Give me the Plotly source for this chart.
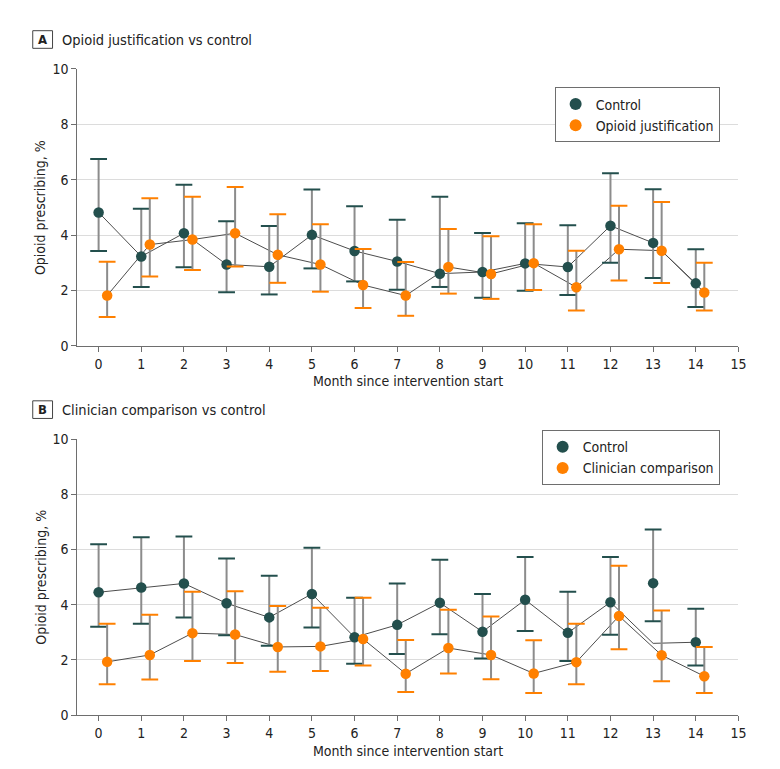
import plotly.graph_objects as go

W, H = 780, 769

months = list(range(15))
tick_vals = list(range(16))

# Panel A: Opioid justification vs control
a_ctrl = [4.82, 3.23, 4.07, 2.94, 2.86, 4.01, 3.43, 3.05, 2.61, 2.67, 2.98, 2.85, 4.34, 3.72, 2.26]
a_ctrl_hi = [6.75, 4.95, 5.82, 4.50, 4.33, 5.65, 5.04, 4.56, 5.39, 4.08, 4.43, 4.36, 6.23, 5.66, 3.49]
a_ctrl_lo = [3.43, 2.13, 2.84, 1.94, 1.86, 2.80, 2.33, 2.03, 2.13, 1.74, 1.99, 1.84, 3.00, 2.45, 1.41]
a_int = [1.82, 3.66, 3.84, 4.07, 3.29, 2.94, 2.20, 1.82, 2.85, 2.60, 2.99, 2.12, 3.49, 3.44, 1.93]
a_int_hi = [3.04, 5.33, 5.39, 5.74, 4.75, 4.39, 3.50, 3.03, 4.22, 3.96, 4.39, 3.44, 5.06, 5.20, 3.00]
a_int_lo = [1.05, 2.51, 2.74, 2.87, 2.28, 1.96, 1.37, 1.09, 1.89, 1.70, 2.02, 1.28, 2.36, 2.27, 1.28]

# Panel B: Clinician comparison vs control
b_ctrl = [4.45, 4.62, 4.77, 4.05, 3.54, 4.39, 2.82, 3.27, 4.07, 3.02, 4.18, 2.98, 4.09, 4.78, 2.64]
b_ctrl_line = [4.45, 4.62, 4.77, 4.05, 3.54, 4.39, 2.82, 3.27, 4.07, 3.02, 4.18, 2.98, 4.09, 2.60, 2.64]
b_ctrl_hi = [6.19, 6.44, 6.47, 5.67, 5.05, 6.06, 4.25, 4.77, 5.63, 4.39, 5.73, 4.47, 5.73, 6.72, 3.85]
b_ctrl_lo = [3.20, 3.31, 3.54, 2.89, 2.51, 3.17, 1.86, 2.21, 2.93, 2.05, 3.05, 1.96, 2.91, 3.40, 1.80]
b_int = [1.93, 2.18, 2.97, 2.92, 2.47, 2.49, 2.76, 1.50, 2.43, 2.18, 1.51, 1.92, 3.59, 2.17, 1.41]
b_int_hi = [3.31, 3.64, 4.47, 4.49, 3.95, 3.89, 4.25, 2.72, 3.82, 3.57, 2.71, 3.31, 5.41, 3.79, 2.47]
b_int_lo = [1.12, 1.29, 1.96, 1.89, 1.57, 1.60, 1.80, 0.84, 1.51, 1.30, 0.80, 1.12, 2.39, 1.23, 0.80]

C_CTRL = "#234f4d"
C_INT = "#ff8000"
C_STEM = "#8c8c8c"
C_LINE = "#4d4d4d"
OFFSET = 0.2
FONT = "Liberation Sans Narrow, DejaVu Sans Condensed, Noto Sans, sans-serif"

fig = go.Figure()


def add_series(xs, ys, lo, hi, color, name, axis_suffix, legend, line_ys=None):
    xa = "x" + axis_suffix
    ya = "y" + axis_suffix
    fig.add_trace(go.Scatter(
        x=xs, y=line_ys if line_ys is not None else ys, mode="lines",
        line=dict(color=C_LINE, width=1), xaxis=xa, yaxis=ya,
        showlegend=False, hoverinfo="skip"))
    return (xs, ys, lo, hi, color, name, xa, ya, legend)


def add_marks(spec):
    xs, ys, lo, hi, color, name, xa, ya, legend = spec
    fig.add_trace(go.Scatter(
        x=xs, y=ys, mode="markers",
        marker=dict(size=0.1, color="rgba(0,0,0,0)"),
        error_y=dict(type="data", symmetric=False,
                     array=[h - v for h, v in zip(hi, ys)],
                     arrayminus=[v - l for v, l in zip(ys, lo)],
                     color=C_STEM, thickness=2, width=0),
        xaxis=xa, yaxis=ya, showlegend=False, hoverinfo="skip"))
    fig.add_trace(go.Scatter(
        x=xs + xs, y=hi + lo, mode="markers",
        marker=dict(symbol="line-ew", size=12, line=dict(color=color, width=2)),
        xaxis=xa, yaxis=ya, showlegend=False, hoverinfo="skip"))
    fig.add_trace(go.Scatter(
        x=xs, y=ys, mode="markers", name=name,
        marker=dict(size=10.5, color=color),
        xaxis=xa, yaxis=ya, showlegend=True, legend=legend))


x_int = [m + OFFSET for m in months]

specs = []
specs.append(add_series(months, a_ctrl, a_ctrl_lo, a_ctrl_hi, C_CTRL, "Control", "", "legend"))
specs.append(add_series(x_int, a_int, a_int_lo, a_int_hi, C_INT, "Opioid justification", "", "legend"))
specs.append(add_series(months, b_ctrl, b_ctrl_lo, b_ctrl_hi, C_CTRL, "Control", "2", "legend2", line_ys=b_ctrl_line))
specs.append(add_series(x_int, b_int, b_int_lo, b_int_hi, C_INT, "Clinician comparison", "2", "legend2"))
for s in specs:
    add_marks(s)


def px_x(p):
    return p / W


def px_y(p):
    return 1 - p / H


xdom = [px_x(70), px_x(738)]
axis_common = dict(showline=True, linecolor="#6e6e6e", linewidth=1,
                   ticks="outside", ticklen=5, tickcolor="#6e6e6e",
                   tickfont=dict(size=14, color="#222", family=FONT), zeroline=False)

xcommon = dict(axis_common, range=[-0.5, 15], tickvals=tick_vals, showgrid=False, domain=xdom)
ycommon = dict(axis_common, range=[0, 10], tickvals=[0, 2, 4, 6, 8, 10],
               showgrid=True, gridcolor="#dcdcdc", gridwidth=1.2)

legend_common = dict(xanchor="right", yanchor="top",
                     bordercolor="#6e6e6e", borderwidth=1, bgcolor="white",
                     font=dict(size=14, family=FONT, color="#222"), itemsizing="constant",
                     tracegroupgap=0)

fig.update_layout(
    width=W, height=H,
    margin=dict(l=0, r=0, t=0, b=0),
    paper_bgcolor="white", plot_bgcolor="white",
    font=dict(family=FONT, size=14, color="#222"),
    xaxis=dict(xcommon, anchor="y"),
    yaxis=dict(ycommon, anchor="x", domain=[px_y(337), px_y(54)]),
    xaxis2=dict(xcommon, anchor="y2"),
    yaxis2=dict(ycommon, anchor="x2", domain=[px_y(714), px_y(432)]),
    legend=dict(legend_common, x=px_x(719), y=px_y(73)),
    legend2=dict(legend_common, x=px_x(719), y=px_y(423)),
    showlegend=True,
)

annotations = []
shapes = []
for label, title, top, bottom, ytitle_px, xtitle_px in [
    ("A", "Opioid justification vs control", 54, 337, 24, 373),
    ("B", "Clinician comparison vs control", 432, 714, 402, 751),
]:
    shapes.append(dict(type="rect", xref="paper", yref="paper",
                       x0=px_x(25), x1=px_x(45), y0=px_y(ytitle_px - 9), y1=px_y(ytitle_px + 9),
                       line=dict(color="#444", width=1), fillcolor="white"))
    annotations.append(dict(text="<b>" + label + "</b>", x=px_x(35), y=px_y(ytitle_px),
                            xref="paper", yref="paper", showarrow=False,
                            xanchor="center", yanchor="middle", font=dict(size=13, family=FONT)))
    annotations.append(dict(text=title, x=px_x(53), y=px_y(ytitle_px),
                            xref="paper", yref="paper", showarrow=False,
                            xanchor="left", yanchor="middle", font=dict(size=14.5, family=FONT)))
    annotations.append(dict(text="Opioid prescribing, %", x=px_x(33), y=px_y((top + bottom) / 2),
                            xref="paper", yref="paper", showarrow=False, textangle=-90,
                            xanchor="center", yanchor="middle", font=dict(size=14, family=FONT)))
    annotations.append(dict(text="Month since intervention start", x=px_x(404), y=px_y(xtitle_px),
                            xref="paper", yref="paper", showarrow=False,
                            xanchor="center", yanchor="middle", font=dict(size=14, family=FONT)))

fig.update_layout(annotations=annotations, shapes=shapes)

fig.write_html("out.html")
